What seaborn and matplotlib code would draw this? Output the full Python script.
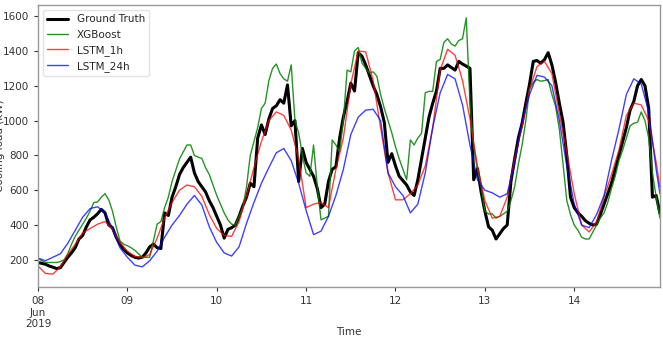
import numpy as np
import pandas as pd
import seaborn as sns
import matplotlib.pyplot as plt

# hourly series (ground truth and xgboost), 2-hourly series (lstm models)
truth = [185,180,175,165,158,150,155,185,215,240,270,320,
         340,390,430,445,465,490,470,400,385,330,290,260,
         240,225,215,210,215,240,275,290,270,265,470,455,
         560,620,690,730,760,790,700,650,620,590,540,500,
         450,400,325,375,385,400,450,510,560,640,620,900,
         975,920,1010,1070,1085,1120,1100,1205,970,1000,650,840,
         760,720,680,610,500,520,650,720,735,900,1020,1110,
         1215,1170,1390,1370,1320,1260,1200,1150,1080,990,760,810,
         740,680,655,630,590,570,660,780,900,1020,1100,1170,
         1300,1300,1320,1305,1290,1340,1325,1313,1300,660,725,590,
         480,390,370,320,350,380,400,650,780,900,985,1100,
         1210,1340,1345,1330,1350,1390,1320,1220,1100,990,800,560,
         500,470,450,425,410,400,405,460,520,580,640,720,
         800,880,960,1060,1110,1200,1236,1200,1070,560,570,470]

xgboost = [210,195,185,185,185,185,190,200,235,290,335,370,
           405,440,480,530,532,560,580,545,480,390,310,290,
           281,270,255,235,215,215,215,310,405,420,500,560,
           650,715,780,820,860,860,800,790,783,730,690,630,
           570,520,470,430,405,400,450,500,620,800,880,960,
           1070,1100,1230,1300,1325,1270,1240,1226,1320,1000,930,800,
           700,680,860,620,430,440,450,889,860,820,1000,1290,
           1280,1400,1420,1330,1300,1274,1280,1255,1150,1070,1000,930,
           850,780,720,660,889,860,900,927,1160,1168,1168,1340,
           1351,1450,1470,1440,1428,1460,1470,1590,1100,850,720,620,
           480,464,464,440,450,464,480,540,620,750,860,1000,
           1180,1220,1236,1226,1230,1236,1150,1081,950,750,541,460,
           400,370,330,320,320,360,400,440,470,530,610,680,
           770,830,900,970,985,990,1050,1000,900,700,560,440]

lstm_1h = [165,122,118,160,230,290,355,380,405,420,375,300,
           250,220,213,230,325,440,530,600,630,620,565,460,
           380,340,335,420,570,730,880,1000,1050,1030,946,780,
           500,520,530,500,720,900,1210,1400,1395,1230,960,700,
           545,545,580,630,740,960,1290,1410,1375,1230,1010,740,
           540,440,450,560,780,966,1180,1310,1340,1270,1040,820,
           580,400,360,420,560,690,830,1030,1100,1090,1000,760,
           618]

lstm_24h = [210,195,215,235,295,370,445,495,505,470,380,270,
            215,170,160,195,250,330,400,455,520,570,515,390,
            300,240,222,275,410,530,640,730,815,840,770,640,
            484,345,365,450,570,720,920,1020,1060,1065,1000,700,
            620,570,470,520,700,960,1160,1265,1240,1090,860,660,
            600,585,560,580,750,1000,1150,1260,1250,1200,1000,740,
            520,400,385,460,570,770,950,1150,1240,1210,1050,720,
            580]

start = pd.Timestamp("2019-06-08")
hours_1 = np.arange(168)
hours_2 = np.append(np.arange(0, 168, 2), 167)
t1 = start + pd.to_timedelta(hours_1, unit="h")
t2 = start + pd.to_timedelta(hours_2, unit="h")

day_labels = ["08\nJun\n2019", "09", "10", "11", "12", "13", "14"]

sns.set_style("white")
plt.rcParams['font.family'] = ['DejaVu Sans']

fig = plt.figure(figsize=(6.63, 3.38), dpi=100)
ax = fig.add_axes([0.0573, 0.151, 0.938, 0.834])

sns.lineplot(x=t1, y=truth, ax=ax, color="black", linewidth=2.2, label="Ground Truth")
sns.lineplot(x=t1, y=xgboost, ax=ax, color="green", linewidth=1.0, alpha=0.85, label="XGBoost")
sns.lineplot(x=t2, y=lstm_1h, ax=ax, color="red", linewidth=1.0, alpha=0.75, label="LSTM_1h")
sns.lineplot(x=t2, y=lstm_24h, ax=ax, color="blue", linewidth=1.0, alpha=0.75, label="LSTM_24h")

ax.set_xlim(t1[0], t1[-1])
ax.set_xticks(pd.date_range(start, periods=7, freq="D"))
ax.set_xticklabels(day_labels)
ax.set_yticks(range(200, 1601, 200))
ax.tick_params(labelsize=7.5, colors="#333333", length=3, direction="out", left=True, bottom=True)

for s in ax.spines.values():
    s.set_color("#999999")
    s.set_linewidth(1.0)

ax.set_xlabel("Time", fontsize=7.5, color="#333333")
ax.xaxis.set_label_coords(0.5, -0.142)
ax.set_ylabel("Cooling load (kW)", fontsize=7.5, color="#333333")
ax.yaxis.set_label_coords(-0.053, 0.5)

leg = ax.legend(loc="upper left", fontsize=7.5, frameon=True)
leg.get_frame().set_edgecolor("#dddddd")

fig.savefig("out.png", dpi=100)
